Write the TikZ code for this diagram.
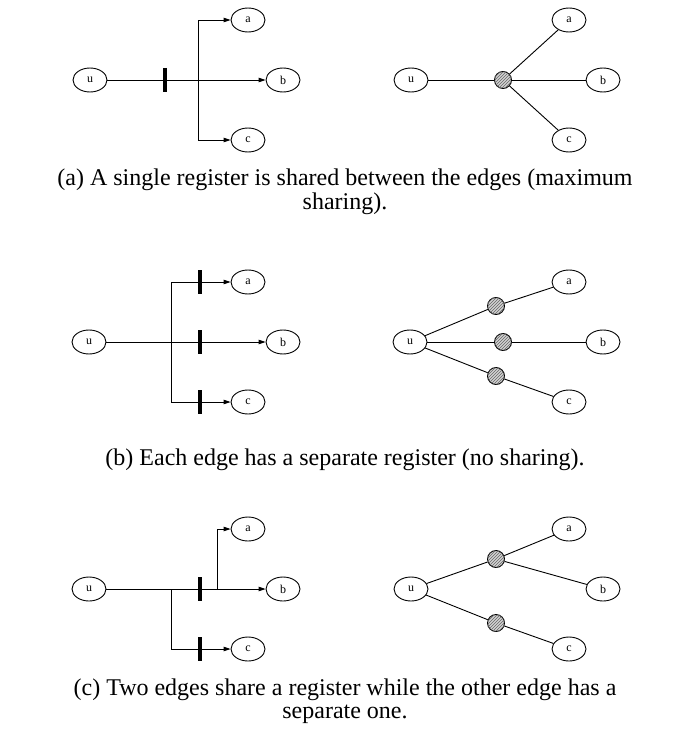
\documentclass[tikz,border=0pt]{standalone}
\usepackage{fontspec}
\setmainfont{Liberation Serif}
\usetikzlibrary{arrows.meta,patterns,shapes.geometric}
\begin{document}
\begin{tikzpicture}[x=1pt,y=-1pt,
  vtx/.style={draw,ellipse,line width=0.9pt,minimum width=34pt,minimum height=24pt,inner sep=0pt,font=\fontsize{12}{12}\selectfont},
  regnode/.style={draw,circle,line width=0.9pt,minimum size=17pt,inner sep=0pt,fill=gray!35,postaction={pattern=north east lines,pattern color=black!60}},
  plainedge/.style={line width=0.9pt},
  arredge/.style={line width=0.9pt,-{Triangle[length=7pt,width=4.5pt]}},
  regbar/.style={line width=3.6pt},
  captext/.style={font=\fontsize{24}{24}\selectfont,inner sep=0pt}]
\useasboundingbox (0,0) rectangle (690,752);
% ---------- (a) left
\node[vtx] (au) at (90,80) {u};
\node[vtx] (aa) at (248,20) {a};
\node[vtx] (ab) at (283,80) {b};
\node[vtx] (ac) at (248,140) {c};
\coordinate (abr) at (198,80);
\coordinate (abt) at (198,20);
\coordinate (abb) at (198,140);
\coordinate (ar1) at (165,68);
\coordinate (ar2) at (165,92);
\draw[arredge] (au) -- (ab);
\draw[arredge] (abr) -- (abt) -- (aa);
\draw[arredge] (abr) -- (abb) -- (ac);
\draw[regbar] (ar1) -- (ar2);
% ---------- (a) right
\node[vtx] (Au) at (411,80) {u};
\node[vtx] (Aa) at (569,20) {a};
\node[vtx] (Ab) at (603,80) {b};
\node[vtx] (Ac) at (569,140) {c};
\node[regnode] (Ar) at (503,80) {};
\draw[plainedge] (Au) -- (Ar);
\draw[plainedge] (Ar) -- (Aa);
\draw[plainedge] (Ar) -- (Ab);
\draw[plainedge] (Ar) -- (Ac);
\node[captext] (capa1) at (345,180) {(a) A single register is shared between the edges (maximum};
\node[captext] (capa2) at (345,204) {sharing).};
% ---------- (b) left
\node[vtx] (bu) at (89,342) {u};
\node[vtx] (ba) at (248,282) {a};
\node[vtx] (bb) at (283,342) {b};
\node[vtx] (bc) at (248,402) {c};
\coordinate (bbr) at (171,342);
\coordinate (bbt) at (171,282);
\coordinate (bbb) at (171,402);
\draw[arredge] (bu) -- (bb);
\draw[arredge] (bbr) -- (bbt) -- (ba);
\draw[arredge] (bbr) -- (bbb) -- (bc);
\coordinate (br1t) at (200,270); \coordinate (br1b) at (200,294);
\coordinate (br2t) at (200,330); \coordinate (br2b) at (200,354);
\coordinate (br3t) at (200,390); \coordinate (br3b) at (200,414);
\draw[regbar] (br1t) -- (br1b);
\draw[regbar] (br2t) -- (br2b);
\draw[regbar] (br3t) -- (br3b);
% ---------- (b) right
\node[vtx] (Bu) at (410,342) {u};
\node[vtx] (Ba) at (569,282) {a};
\node[vtx] (Bb) at (603,342) {b};
\node[vtx] (Bc) at (569,402) {c};
\node[regnode] (Br1) at (496,306) {};
\node[regnode] (Br2) at (503,342) {};
\node[regnode] (Br3) at (496,376) {};
\draw[plainedge] (Bu) -- (Br1) -- (Ba);
\draw[plainedge] (Bu) -- (Br2) -- (Bb);
\draw[plainedge] (Bu) -- (Br3) -- (Bc);
\node[captext] (capb) at (345,460) {(b) Each edge has a separate register (no sharing).};
% ---------- (c) left
\node[vtx] (cu) at (89,589) {u};
\node[vtx] (ca) at (248,529) {a};
\node[vtx] (cb) at (283,589) {b};
\node[vtx] (cc) at (248,649) {c};
\coordinate (cbr) at (171,589);
\coordinate (cbb) at (171,649);
\coordinate (cbu) at (217,589);
\coordinate (cbt) at (217,529);
\draw[arredge] (cu) -- (cb);
\draw[arredge] (cbu) -- (cbt) -- (ca);
\draw[arredge] (cbr) -- (cbb) -- (cc);
\coordinate (cr1t) at (200,577); \coordinate (cr1b) at (200,601);
\coordinate (cr2t) at (200,637); \coordinate (cr2b) at (200,661);
\draw[regbar] (cr1t) -- (cr1b);
\draw[regbar] (cr2t) -- (cr2b);
% ---------- (c) right
\node[vtx] (Cu) at (411,589) {u};
\node[vtx] (Ca) at (569,529) {a};
\node[vtx] (Cb) at (603,589) {b};
\node[vtx] (Cc) at (569,649) {c};
\node[regnode] (Cr1) at (496,559) {};
\node[regnode] (Cr2) at (496,623) {};
\draw[plainedge] (Cu) -- (Cr1);
\draw[plainedge] (Cr1) -- (Ca);
\draw[plainedge] (Cr1) -- (Cb);
\draw[plainedge] (Cu) -- (Cr2) -- (Cc);
\node[captext] (capc1) at (345,690) {(c) Two edges share a register while the other edge has a};
\node[captext] (capc2) at (345,714) {separate one.};
\end{tikzpicture}
\end{document}
